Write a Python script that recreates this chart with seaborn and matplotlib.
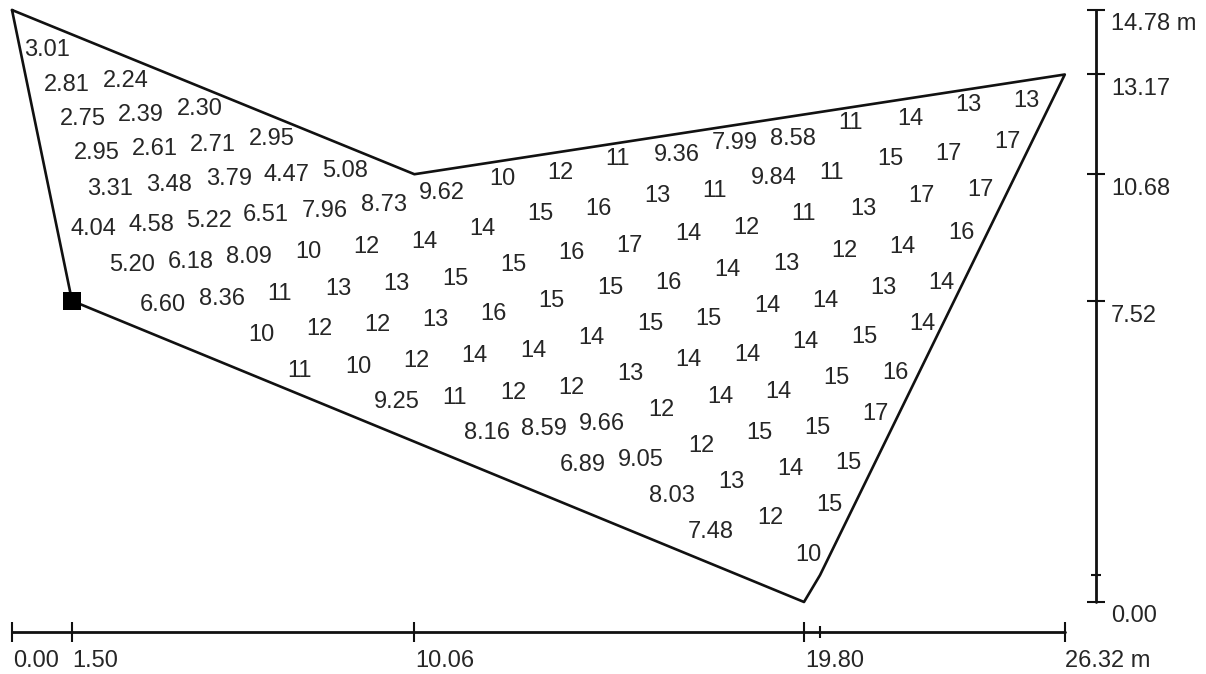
import matplotlib
matplotlib.use("Agg")
import matplotlib.pyplot as plt
import seaborn as sns

# outline of the field in metres
outline_x = [0.00, 10.06, 26.32, 20.20, 19.80, 1.50, 0.00]
outline_y = [14.78, 10.68, 13.17, 0.67, 0.00, 7.52, 14.78]
station_x = [1.50]
station_y = [7.52]

# scale bars
x_ticks = [0.00, 1.50, 10.06, 19.80, 26.32]
x_minor = [20.20]
y_ticks = [0.00, 7.52, 10.68, 13.17, 14.78]
y_minor = [0.67]

# measured values and where they sit in the field, one diagonal row per line
labels = [
    "3.01", "2.81", "2.24", "2.75", "2.39", "2.30", "2.95", "2.61", "2.71", "2.95",
    "3.31", "3.48", "3.79", "4.47", "5.08",
    "4.04", "4.58", "5.22", "6.51", "7.96", "8.73", "9.62", "10", "12", "11", "9.36", "7.99", "8.58", "11", "14", "13", "13",
    "5.20", "6.18", "8.09", "10", "12", "14", "14", "15", "16", "13", "11", "9.84", "11", "15", "17", "17",
    "6.60", "8.36", "11", "13", "13", "15", "15", "16", "17", "14", "12", "11", "13", "17", "17",
    "10", "12", "12", "13", "16", "15", "15", "16", "14", "13", "12", "14", "16",
    "11", "10", "12", "14", "14", "14", "15", "15", "14", "14", "13", "14",
    "9.25", "11", "12", "12", "13", "14", "14", "14", "15", "14",
    "8.16", "8.59", "9.66", "12", "14", "14", "15", "16",
    "6.89", "9.05", "12", "15", "15", "17",
    "8.03", "13", "14", "15",
    "7.48", "12", "15",
    "10",
]
label_x = [
    0.875, 1.375, 2.85, 1.775, 3.225, 4.70, 2.125, 3.575, 5.025, 6.50,
    2.45, 3.925, 5.425, 6.875, 8.325,
    2.025, 3.475, 4.925, 6.35, 7.825, 9.30, 10.75, 12.25, 13.70, 15.15, 16.625, 18.075, 19.525, 20.975, 22.45, 23.90, 25.35,
    3.0, 4.475, 5.925, 7.40, 8.85, 10.30, 11.75, 13.20, 14.65, 16.125, 17.575, 19.05, 20.50, 21.95, 23.40, 24.875,
    3.775, 5.25, 6.70, 8.15, 9.60, 11.075, 12.525, 13.975, 15.425, 16.90, 18.35, 19.80, 21.275, 22.725, 24.20,
    6.225, 7.675, 9.125, 10.575, 12.025, 13.475, 14.95, 16.40, 17.875, 19.35, 20.80, 22.25, 23.725,
    7.20, 8.65, 10.10, 11.55, 13.025, 14.475, 15.95, 17.40, 18.875, 20.325, 21.775, 23.225,
    9.625, 11.075, 12.525, 13.975, 15.45, 16.90, 18.375, 19.825, 21.30, 22.75,
    11.875, 13.30, 14.75, 16.225, 17.70, 19.15, 20.60, 22.075,
    14.275, 15.725, 17.225, 18.675, 20.125, 21.575,
    16.50, 17.975, 19.45, 20.90,
    17.475, 18.95, 20.425,
    19.90,
]
label_y = [
    13.83, 12.97, 13.07, 12.12, 12.22, 12.35, 11.25, 11.35, 11.47, 11.60,
    10.35, 10.47, 10.60, 10.70, 10.82,
    9.35, 9.45, 9.57, 9.70, 9.82, 9.95, 10.27, 10.62, 10.75, 11.10, 11.22, 11.50, 11.62, 12.00, 12.12, 12.45, 12.57,
    8.475, 8.55, 8.675, 8.80, 8.925, 9.05, 9.35, 9.725, 9.85, 10.175, 10.30, 10.625, 10.75, 11.10, 11.225, 11.525,
    7.475, 7.625, 7.75, 7.875, 8.0, 8.125, 8.475, 8.775, 8.95, 9.25, 9.375, 9.725, 9.85, 10.175, 10.325,
    6.725, 6.875, 6.975, 7.10, 7.25, 7.575, 7.90, 8.025, 8.35, 8.50, 8.825, 8.925, 9.275,
    5.825, 5.925, 6.075, 6.20, 6.325, 6.65, 7.0, 7.125, 7.45, 7.575, 7.90, 8.025,
    5.05, 5.15, 5.275, 5.40, 5.75, 6.10, 6.225, 6.55, 6.675, 7.0,
    4.275, 4.375, 4.50, 4.85, 5.175, 5.30, 5.65, 5.775,
    3.475, 3.60, 3.95, 4.275, 4.40, 4.75,
    2.70, 3.05, 3.375, 3.525,
    1.80, 2.15, 2.475,
    1.225,
]

sns.set_style("white")
plt.rcParams['font.family'] = ['Liberation Sans', 'DejaVu Sans']

ink = "#111111"
text_ink = "#262626"
font_size = 17
fig, ax = plt.subplots(figsize=(12.06, 6.74), dpi=100)
ax.set_position([0, 0, 1, 1])

# outline and station square
sns.lineplot(x=outline_x, y=outline_y, sort=False, estimator=None, color=ink, linewidth=1.9, ax=ax)
sns.scatterplot(x=station_x, y=station_y, marker="s", s=150, color="black", linewidth=0, zorder=5, ax=ax)

# the values
for t, x, y in zip(labels, label_x, label_y):
    ax.text(x, y - 0.05, t, fontsize=font_size, color=text_ink, ha="center", va="center")

# horizontal scale
bar_y = -0.75
sns.lineplot(x=[x_ticks[0], x_ticks[-1]], y=[bar_y, bar_y], color=ink, linewidth=2.0, ax=ax)
ax.vlines(x_ticks, bar_y - 0.24, bar_y + 0.24, color=ink, linewidth=1.5)
ax.vlines(x_minor, bar_y - 0.16, bar_y + 0.16, color=ink, linewidth=1.5)
x_text = ["0.00", "1.50", "10.06", "19.80", "26.32 m"]
x_text_pos = [0.59, 2.09, 10.83, 20.58, 27.4]
for t, x in zip(x_text, x_text_pos):
    ax.text(x, -1.48, t, fontsize=font_size, color=text_ink, ha="center", va="center")

# vertical scale
bar_x = 27.1
sns.lineplot(x=[bar_x, bar_x], y=[y_ticks[0], y_ticks[-1]], sort=False, estimator=None, color=ink, linewidth=2.0, ax=ax)
ax.hlines(y_ticks, bar_x - 0.22, bar_x + 0.22, color=ink, linewidth=1.5)
ax.hlines(y_minor, bar_x - 0.12, bar_x + 0.12, color=ink, linewidth=1.5)
y_text = ["0.00", "7.52", "10.68", "13.17", "14.78 m"]
y_text_pos = [-0.35, 7.13, 10.32, 12.82, 14.42]
for t, y in zip(y_text, y_text_pos):
    ax.text(27.475, y, t, fontsize=font_size, color=text_ink, ha="left", va="center")

ax.set_xlim(-0.30, 29.85)
ax.set_ylim(-1.798, 15.03)
ax.axis("off")

plt.savefig("out.png", dpi=100)
